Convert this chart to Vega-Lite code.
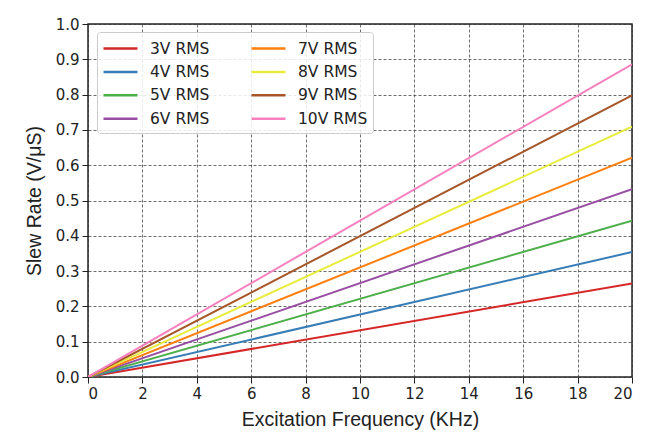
{
  "$schema": "https://vega.github.io/schema/vega-lite/v6.json",
  "width": 544,
  "height": 353,
  "autosize": {"type": "none"},
  "padding": {"left": 88, "top": 24, "right": 20, "bottom": 56},
  "background": "white",
  "config": {
    "font": "DejaVu Sans",
    "view": {"stroke": "#222", "strokeWidth": 1.5}
  },
  "data": {
    "values": [
      {"f": 0, "sr": 0, "s": "3V RMS"}, {"f": 20, "sr": 0.265, "s": "3V RMS"},
      {"f": 0, "sr": 0, "s": "4V RMS"}, {"f": 20, "sr": 0.354, "s": "4V RMS"},
      {"f": 0, "sr": 0, "s": "5V RMS"}, {"f": 20, "sr": 0.443, "s": "5V RMS"},
      {"f": 0, "sr": 0, "s": "6V RMS"}, {"f": 20, "sr": 0.532, "s": "6V RMS"},
      {"f": 0, "sr": 0, "s": "7V RMS"}, {"f": 20, "sr": 0.621, "s": "7V RMS"},
      {"f": 0, "sr": 0, "s": "8V RMS"}, {"f": 20, "sr": 0.709, "s": "8V RMS"},
      {"f": 0, "sr": 0, "s": "9V RMS"}, {"f": 20, "sr": 0.798, "s": "9V RMS"},
      {"f": 0, "sr": 0, "s": "10V RMS"}, {"f": 20, "sr": 0.886, "s": "10V RMS"}
    ]
  },
  "mark": {"type": "line", "strokeWidth": 2, "clip": true},
  "encoding": {
    "x": {
      "field": "f", "type": "quantitative",
      "scale": {"domain": [0, 20], "nice": false},
      "axis": {
        "title": "Excitation Frequency (KHz)", "values": [0,2,4,6,8,10,12,14,16,18,20],
        "titleFont": "Liberation Sans", "titleFontSize": 19.5, "titleFontWeight": "normal", "titleColor": "#222",
        "labelFontSize": 15, "labelColor": "#222", "labelPadding": 3,
        "tickColor": "#222", "tickSize": 6, "domain": false,
        "grid": true, "gridColor": "#333", "gridDash": [3, 2], "gridWidth": 0.8, "gridOpacity": 0.9,
        "titlePadding": 9
      }
    },
    "y": {
      "field": "sr", "type": "quantitative",
      "scale": {"domain": [0, 1], "nice": false},
      "axis": {
        "title": "Slew Rate (V/μS)", "values": [0,0.1,0.2,0.3,0.4,0.5,0.6,0.7,0.8,0.9,1.0], "format": ".1f",
        "titleFont": "Liberation Sans", "titleFontSize": 19.5, "titleFontWeight": "normal", "titleColor": "#222",
        "labelFontSize": 15, "labelColor": "#222", "labelPadding": 3,
        "tickColor": "#222", "tickSize": 6, "domain": false,
        "grid": true, "gridColor": "#333", "gridDash": [3, 2], "gridWidth": 0.8, "gridOpacity": 0.9,
        "titlePadding": 11
      }
    },
    "color": {
      "field": "s", "type": "nominal",
      "scale": {
        "domain": ["3V RMS", "4V RMS", "5V RMS", "6V RMS", "7V RMS", "8V RMS", "9V RMS", "10V RMS"],
        "range": ["#d62728", "#377eb8", "#4daf4a", "#984ea3", "#ff7f0e", "#e8ec3a", "#a65628", "#f781bf"]
      },
      "legend": {
        "title": null, "orient": "none", "legendX": 9, "legendY": 8, "columns": 2,
        "columnPadding": 36, "rowPadding": 3.4,
        "symbolType": "M-1,0H2.4", "symbolSize": 400, "symbolStrokeWidth": 2.5,
        "labelFontSize": 15.5, "labelColor": "#222", "labelOffset": 25,
        "fillColor": "rgba(255,255,255,0.85)", "strokeColor": "#ccc", "cornerRadius": 3, "padding": 5
      }
    }
  }
}
